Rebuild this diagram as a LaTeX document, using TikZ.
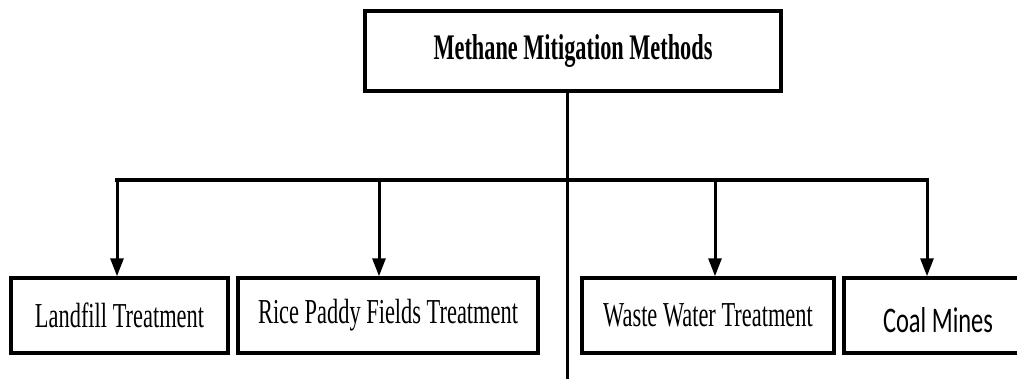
\documentclass[tikz,border=0pt]{standalone}
\usepackage{fontspec}
\usetikzlibrary{arrows.meta}
\newfontfamily\tnr[FakeStretch=0.64]{Liberation Serif}
\newfontfamily\tnrb[FakeStretch=0.62]{Liberation Serif}
\newfontfamily\coalfont[FakeStretch=0.68]{Carlito}
\begin{document}
\begin{tikzpicture}[x=1pt,y=1pt,
  box/.style={draw=black, line width=3.5pt, fill=white, inner sep=0pt, minimum height=75pt},
  topbox/.style={draw=black, line width=4pt, fill=white, inner sep=0pt, minimum width=416pt, minimum height=80pt},
  serif/.style={font=\tnr\fontsize{35}{40}\selectfont},
  arr/.style={line width=3pt, -{Triangle[width=13pt,length=18pt]}},
  bar/.style={line width=3.5pt}]
\clip (0,0) rectangle (1017,-378);
\fill[white] (0,0) rectangle (1017,-378);
% nodes
\node[topbox, font=\tnrb\bfseries\fontsize{36}{40}\selectfont] (top) at (573,-51) {Methane Mitigation Methods};
\node[box, serif, minimum width=217pt] (land) at (119.5,-315.5) {Landfill Treatment};
\node[box, serif, minimum width=300pt] (rice) at (388,-315.5) {Rice Paddy Fields Treatment};
\node[box, serif, minimum width=252pt] (waste) at (708,-315.5) {Waste Water Treatment};
\node[box, minimum width=186pt] (coal) at (937,-315.5) {};
\node[font=\coalfont\fontsize{36}{40}\selectfont, inner sep=0pt] (coaltext) at (938,-320) {Coal Mines};
% coordinates
\coordinate (bot) at (567,-382);
\coordinate (j1) at (117,-180);
\coordinate (j2) at (379,-180);
\coordinate (j3) at (715,-180);
\coordinate (j4) at (927,-180);
% connectors
\draw[line width=3pt] (top.south -| bot) -- (bot);
\draw[bar, line cap=rect, line join=miter] (j1) -- (j4);
\draw[arr] (j1) -- (j1 |- land.north);
\draw[arr] (j2) -- (j2 |- rice.north);
\draw[arr] (j3) -- (j3 |- waste.north);
\draw[arr] (j4) -- (j4 |- coal.north);
\end{tikzpicture}
\end{document}
